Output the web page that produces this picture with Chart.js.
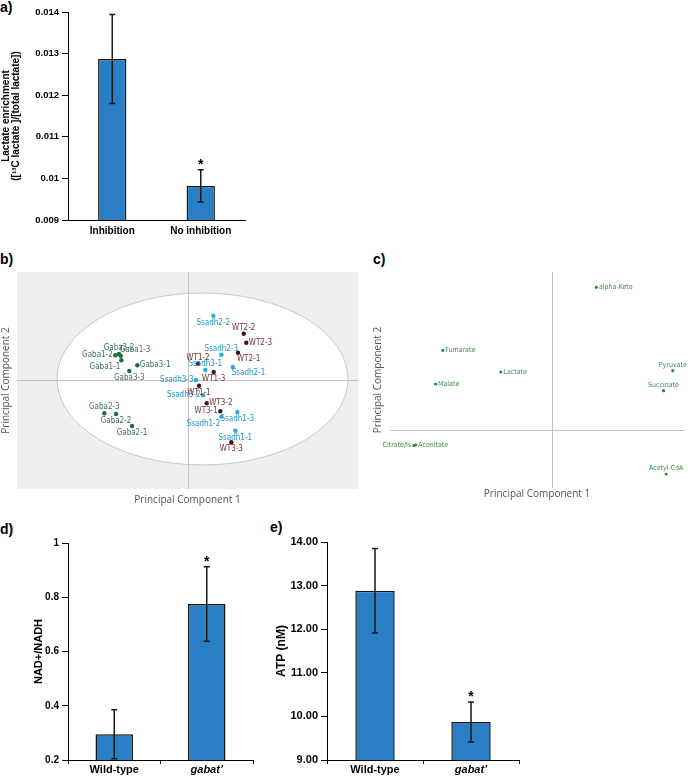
<!DOCTYPE html>
<html>
<head>
<meta charset="utf-8">
<script src="https://cdn.jsdelivr.net/npm/chart.js@4"></script>
<style>
  body { margin: 0; background: #fff; width: 688px; height: 777px; position: relative; overflow: hidden;
         font-family: 'Liberation Sans', Arial, sans-serif; }
  .panel { position: absolute; }
  .tag { position: absolute; font-weight: bold; font-size: 14px; line-height: 14px; color: #000; }
</style>
</head>
<body>
<div class="tag" style="left:0;top:0">a)</div>
<div class="tag" style="left:0;top:252px">b)</div>
<div class="tag" style="left:373px;top:252px">c)</div>
<div class="tag" style="left:0;top:522px">d)</div>
<div class="tag" style="left:270px;top:520px">e)</div>

<div class="panel" style="left:0;top:0;width:260px;height:250px"><canvas id="lactateChart"></canvas></div>
<div class="panel" style="left:0;top:262px;width:368px;height:244px"><canvas id="scoreChart"></canvas></div>
<div class="panel" style="left:365px;top:262px;width:323px;height:238px"><canvas id="loadingChart"></canvas></div>
<div class="panel" style="left:0;top:520px;width:260px;height:257px"><canvas id="nadChart"></canvas></div>
<div class="panel" style="left:250px;top:520px;width:270px;height:257px"><canvas id="atpChart"></canvas></div>

<script>
// a) lactate enrichment
const lactateGroups = ['Inhibition', 'No inhibition'];
const lactateEnrichment = [0.01287, 0.00982];
const lactateSd = [0.00107, 0.00039];
const lactateStar = [false, true];

// d) / e) wild-type vs mutant
const genotypes = ['Wild-type', 'gabat\u2019'];
const nadRatio = [0.295, 0.775];
const nadSd = [0.09, 0.137];
const atpNm = [12.88, 9.87];
const atpSd = [0.97, 0.46];
const mutantStar = [false, true];

// b) PCA scores
const gabaNames = ['Gaba1-1', 'Gaba1-2', 'Gaba1-3', 'Gaba2-1', 'Gaba2-2', 'Gaba2-3', 'Gaba3-1', 'Gaba3-2', 'Gaba3-3'];
const gabaPc1 = [-6.67, -7.27, -6.73, -5.6, -7.2, -8.37, -5.07, -6.9, -5.87];
const gabaPc2 = [1.97, 2.47, 2.43, -4.6, -3.4, -3.33, 1.47, 2.6, 0.9];
const ssadhNames = ['Ssadh1-1', 'Ssadh1-2', 'Ssadh1-3', 'Ssadh2-1', 'Ssadh2-2', 'Ssadh2-3', 'Ssadh3-1', 'Ssadh3-2', 'Ssadh3-3'];
const ssadhPc1 = [4.73, 3.33, 4.93, 4.47, 2.53, 3.33, 1.73, 1.5, 0.8];
const ssadhPc2 = [-5.07, -3.67, -3.2, 1.3, 6.43, 2.53, 1.0, -1.53, -0.03];
const wtNames = ['WT1-1', 'WT1-2', 'WT1-3', 'WT2-1', 'WT2-2', 'WT2-3', 'WT3-1', 'WT3-2', 'WT3-3'];
const wtPc1 = [1.1, 1.0, 2.57, 5.0, 5.57, 5.83, 3.23, 1.87, 4.33];
const wtPc2 = [-0.57, 1.63, 0.8, 2.73, 4.63, 3.73, -3.13, -2.33, -6.23];

// c) PCA loadings
const metabolites = ['alpha-Keto', 'Fumarate', 'Lactate', 'Malate', 'Pyruvate', 'Succinate', 'Citrate/Is', 'Aconitate', 'Acetyl-CoA'];
const loadPc1 = [4.45, -11.07, -5.2, -11.8, 12.17, 11.23, -14.0, -13.8, 11.5];
const loadPc2 = [14.27, 7.97, 5.8, 4.6, 5.93, 3.93, -1.55, -1.5, -4.4];

// where each point label sits relative to its dot
const gabaSides = ['sw', 'w', 'ne', 's', 's', 'n', 'e', 'n', 's'];
const ssadhSides = ['s', 'sw', 's', 'se', 's', 'n', 'n', 'w', 'w'];
const wtSides = ['s', 'n', 's', 'se', 'n', 'e', 'w', 'e', 's'];
const metSides = ['e', 'e', 'e', 'e', 'n', 'n', 'w', 'e', 'n'];

Chart.defaults.font.family = "'Liberation Sans', Arial, sans-serif";
Chart.defaults.color = '#000';

// error bars + significance stars
const errorBars = {
  id: 'errorBars',
  afterDatasetsDraw(chart, args, opts) {
    const { ctx, scales: { y } } = chart;
    const ds = chart.data.datasets[0];
    ctx.save();
    ctx.strokeStyle = '#1a1a1a';
    ctx.lineWidth = 1.5;
    ctx.fillStyle = '#000';
    ctx.font = "bold 14px 'Liberation Sans', Arial";
    ctx.textAlign = 'center';
    ctx.textBaseline = 'alphabetic';
    chart.getDatasetMeta(0).data.forEach((bar, i) => {
      const v = ds.data[i], e = opts.err[i];
      const top = y.getPixelForValue(v + e);
      const bot = Math.min(y.getPixelForValue(v - e), y.bottom);
      ctx.beginPath();
      ctx.moveTo(bar.x, top); ctx.lineTo(bar.x, bot);
      ctx.moveTo(bar.x - 3, top); ctx.lineTo(bar.x + 3, top);
      ctx.moveTo(bar.x - 3, bot); ctx.lineTo(bar.x + 3, bot);
      ctx.stroke();
      if (opts.star[i]) ctx.fillText('*', bar.x, top - 1);
    });
    ctx.restore();
  }
};

// background, ellipse, zero lines, point names
const pcaDecor = {
  id: 'pcaDecor',
  beforeDatasetsDraw(chart, args, o) {
    const { ctx, chartArea: a, scales: { x, y } } = chart;
    ctx.save();
    if (o.background) {
      ctx.fillStyle = o.background;
      ctx.fillRect(a.left, a.top, a.width, a.height);
    }
    if (o.ellipse) {
      const [cx, cy, rx, ry] = o.ellipse;
      const px = x.getPixelForValue(cx), py = y.getPixelForValue(cy);
      ctx.beginPath();
      ctx.ellipse(px, py, x.getPixelForValue(cx + rx) - px, py - y.getPixelForValue(cy + ry), 0, 0, Math.PI * 2);
      ctx.fillStyle = '#fff';
      ctx.fill();
      ctx.strokeStyle = '#c9c9c9';
      ctx.lineWidth = 1;
      ctx.stroke();
    }
    const x0 = Math.round(x.getPixelForValue(0)) + 0.5, y0 = Math.round(y.getPixelForValue(0)) + 0.5;
    ctx.strokeStyle = '#c4c4c4';
    ctx.lineWidth = 1;
    ctx.beginPath();
    ctx.moveTo(x0, a.top); ctx.lineTo(x0, a.bottom);
    ctx.moveTo(a.left, y0); ctx.lineTo(a.right, y0);
    ctx.stroke();
    ctx.restore();
  },
  afterDatasetsDraw(chart, args, o) {
    const ctx = chart.ctx;
    ctx.save();
    ctx.font = o.font;
    chart.data.datasets.forEach((ds, di) => {
      ctx.fillStyle = ds.labelColor;
      chart.getDatasetMeta(di).data.forEach((pt, i) => {
        const s = ds.sides[i];
        let tx = pt.x, ty = pt.y;
        ctx.textAlign = 'center';
        ctx.textBaseline = 'middle';
        if (s === 'n') { ctx.textBaseline = 'bottom'; ty -= 2; }
        if (s === 's') { ctx.textBaseline = 'top'; ty += 3; }
        if (s === 'e') { ctx.textAlign = 'left'; tx += 2.5; }
        if (s === 'w') { ctx.textAlign = 'right'; tx -= 2.5; }
        if (s === 'ne') { ctx.textAlign = 'left'; ctx.textBaseline = 'bottom'; tx -= 1; ty -= 2; }
        if (s === 'se') { ctx.textAlign = 'left'; ctx.textBaseline = 'top'; tx -= 1; ty += 2; }
        if (s === 'sw') { ctx.textAlign = 'right'; ctx.textBaseline = 'top'; tx -= 1; ty += 3; }
        ctx.fillText(ds.names[i], tx, ty);
      });
    });
    ctx.restore();
  }
};

function barPanel(id, labels, values, err, star, o) {
  return new Chart(document.getElementById(id), {
    type: 'bar',
    data: {
      labels,
      datasets: [{
        data: values,
        backgroundColor: '#2a7fc4',
        borderColor: '#151515',
        borderWidth: 1.5,
        categoryPercentage: o.cat,
        barPercentage: 1
      }]
    },
    options: {
      animation: false,
      responsive: true,
      maintainAspectRatio: false,
      layout: { padding: { top: o.top, right: o.right, left: 0, bottom: 0 } },
      plugins: { legend: { display: false }, tooltip: { enabled: false }, errorBars: { err, star } },
      scales: {
        x: {
          grid: { display: o.midTick, drawTicks: o.midTick, drawOnChartArea: false, color: '#000', tickLength: 4 },
          border: { color: '#000', width: 1 },
          ticks: {
            color: '#000',
            padding: o.xPad,
            font: c => ({ size: o.xFont, weight: 'bold', lineHeight: 1.1, style: o.italic[c.index] ? 'italic' : 'normal' })
          },
          afterFit: s => { s.height = o.xh; }
        },
        y: {
          min: o.min,
          max: o.max,
          ticks: { stepSize: o.step, color: '#000', padding: 3, font: { size: o.yFont, weight: 'bold' }, callback: o.fmt },
          grid: { drawOnChartArea: false, color: '#000', tickLength: 6 },
          border: { color: '#000', width: 1 },
          title: {
            display: true, text: o.title, color: '#000',
            font: { size: o.titleSize, weight: 'bold', lineHeight: 1 },
            padding: { top: o.titlePad, bottom: 0 }
          },
          afterFit: s => { s.width = o.yw; }
        }
      }
    },
    plugins: [errorBars]
  });
}

function group(names, pc1, pc2, sides, dot, text, r) {
  return {
    data: names.map((n, i) => ({ x: pc1[i], y: pc2[i] })),
    names, sides, labelColor: text,
    pointRadius: r, pointBackgroundColor: dot, pointBorderWidth: 0
  };
}

function pcaPanel(id, datasets, o) {
  const titleFont = { family: "'Open Sans', sans-serif", size: 10 };
  return new Chart(document.getElementById(id), {
    type: 'scatter',
    data: { datasets },
    options: {
      animation: false,
      responsive: true,
      maintainAspectRatio: false,
      layout: { padding: { top: o.top, right: o.right, left: 0, bottom: 0 } },
      plugins: { legend: { display: false }, tooltip: { enabled: false }, pcaDecor: o.decor },
      scales: {
        x: {
          min: o.x[0], max: o.x[1],
          grid: { display: false }, border: { display: false }, ticks: { display: false },
          title: { display: true, text: 'Principal Component 1', color: '#555', font: titleFont, padding: 0 },
          afterFit: s => { s.height = o.xh; }
        },
        y: {
          min: o.y[0], max: o.y[1],
          grid: { display: false }, border: { display: false }, ticks: { display: false },
          title: { display: true, text: 'Principal Component 2', color: '#555', font: titleFont, padding: { top: o.yPad, bottom: 0 } },
          afterFit: s => { s.width = o.yw; }
        }
      }
    },
    plugins: [pcaDecor]
  });
}

barPanel('lactateChart', lactateGroups, lactateEnrichment, lactateSd, lactateStar, {
  cat: 0.32, top: 12, right: 15, xh: 30, yw: 68, xPad: 6, xFont: 10, yFont: 9.5,
  midTick: false, italic: [false, false],
  min: 0.009, max: 0.014, step: 0.001, fmt: v => String(parseFloat(v.toFixed(3))),
  title: ['Lactate enrichment', '([\u00B9\u00B3C lactate ]/[total lactate])'], titleSize: 10, titlePad: 1
});

barPanel('nadChart', genotypes, nadRatio, nadSd, mutantStar, {
  cat: 0.405, top: 23, right: 7, xh: 17, yw: 68, xPad: 0, xFont: 11, yFont: 10,
  midTick: true, italic: [false, true],
  min: 0.2, max: 1, step: 0.2, fmt: v => String(parseFloat(v.toFixed(1))),
  title: 'NAD+/NADH', titleSize: 11, titlePad: 33
});

barPanel('atpChart', genotypes, atpNm, atpSd, mutantStar, {
  cat: 0.41, top: 22, right: 1, xh: 17, yw: 77, xPad: 0, xFont: 11, yFont: 11,
  midTick: true, italic: [false, true],
  min: 9, max: 14, step: 1, fmt: v => v.toFixed(2),
  title: 'ATP (nM)', titleSize: 12, titlePad: 26
});

pcaPanel('scoreChart', [
  group(gabaNames, gabaPc1, gabaPc2, gabaSides, '#1d6e3c', '#3f7058', 2.2),
  group(ssadhNames, ssadhPc1, ssadhPc2, ssadhSides, '#29abe2', '#2196cf', 2.2),
  group(wtNames, wtPc1, wtPc2, wtSides, '#4a0f14', '#7d3232', 2.2)
], {
  x: [-17.1, 17.0], y: [-10.9, 10.8], top: 10, right: 10, xh: 17, yw: 17, yPad: 0,
  decor: { background: '#efefef', ellipse: [1.45, 0.1, 14.55, 8.6], font: "8px 'Liberation Sans Narrow', 'DejaVu Sans Condensed', sans-serif" }
});

pcaPanel('loadingChart', [
  group(metabolites, loadPc1, loadPc2, metSides, '#2e8b3e', '#3c8c46', 1.6)
], {
  x: [-16.4, 13.3], y: [-5.8, 15.8], top: 10, right: 1, xh: 12, yw: 25, yPad: 7,
  decor: { font: "7px 'Liberation Sans Narrow', 'DejaVu Sans Condensed', sans-serif" }
});
</script>
</body>
</html>
